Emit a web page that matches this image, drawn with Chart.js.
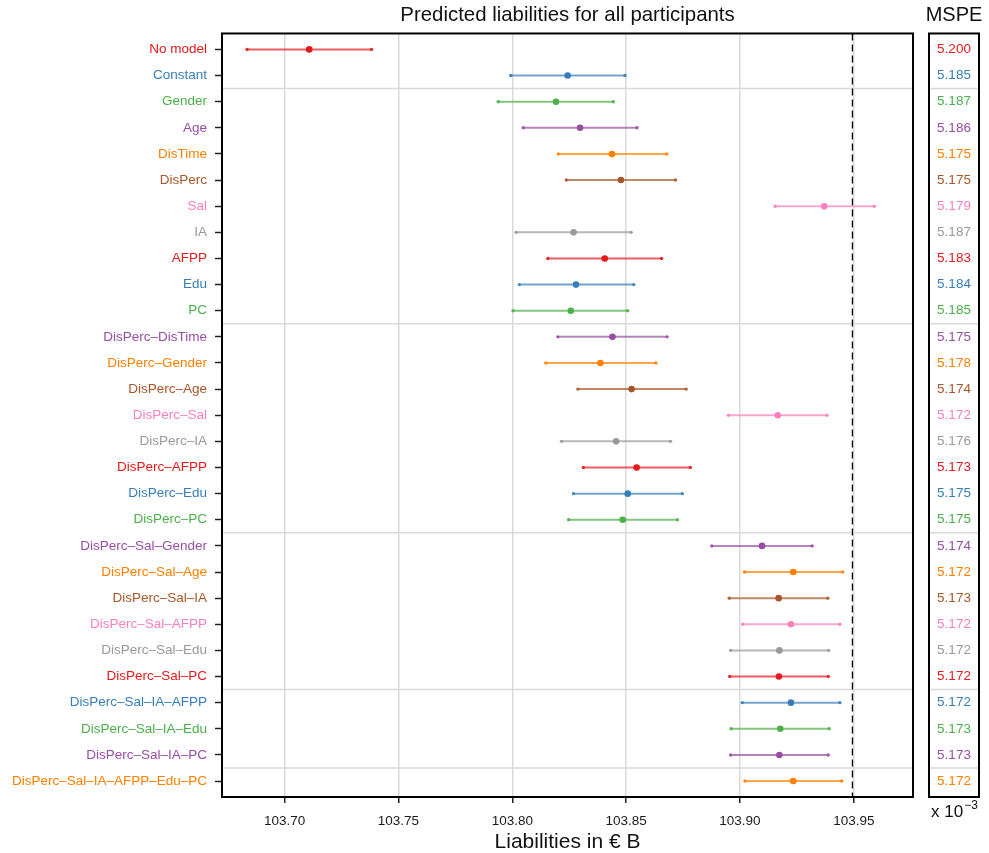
<!DOCTYPE html>
<html lang="en">
<head>
<meta charset="UTF-8">
<title>Predicted liabilities for all participants</title>
<script src="https://cdn.jsdelivr.net/npm/chart.js"></script>
<style>
    body { margin: 0; background: #fff; }
    #wrap { width: 989px; height: 853px; }
</style>
</head>
<body>
<div id="wrap"><canvas id="liabChart" width="989" height="853"></canvas></div>
<script>
    const rowLabels = [
        'No model', 'Constant', 'Gender', 'Age', 'DisTime', 'DisPerc', 'Sal', 'IA', 'AFPP', 'Edu', 'PC',
        'DisPerc–DisTime', 'DisPerc–Gender', 'DisPerc–Age', 'DisPerc–Sal', 'DisPerc–IA', 'DisPerc–AFPP', 'DisPerc–Edu', 'DisPerc–PC',
        'DisPerc–Sal–Gender', 'DisPerc–Sal–Age', 'DisPerc–Sal–IA', 'DisPerc–Sal–AFPP', 'DisPerc–Sal–Edu', 'DisPerc–Sal–PC',
        'DisPerc–Sal–IA–AFPP', 'DisPerc–Sal–IA–Edu', 'DisPerc–Sal–IA–PC',
        'DisPerc–Sal–IA–AFPP–Edu–PC'
    ];
    const lowerValues = [
        103.6835, 103.7993, 103.7938, 103.8048, 103.8202, 103.8237, 103.9154, 103.8017, 103.8156, 103.8031, 103.8003,
        103.8200, 103.8147, 103.8288, 103.8949, 103.8216, 103.8312, 103.8269, 103.8247,
        103.8876, 103.9020, 103.8953, 103.9012, 103.8959, 103.8955,
        103.9010, 103.8961, 103.8959,
        103.9022
    ];
    const pointValues = [
        103.7108, 103.8243, 103.8192, 103.8298, 103.8438, 103.8477, 103.9370, 103.8269, 103.8406, 103.8280, 103.8257,
        103.8440, 103.8387, 103.8524, 103.9166, 103.8456, 103.8546, 103.8507, 103.8485,
        103.9097, 103.9234, 103.9170, 103.9224, 103.9173, 103.9171,
        103.9224, 103.9177, 103.9173,
        103.9234
    ];
    const upperValues = [
        103.7382, 103.8495, 103.8444, 103.8548, 103.8678, 103.8717, 103.9590, 103.8522, 103.8656, 103.8534, 103.8507,
        103.8680, 103.8631, 103.8764, 103.9382, 103.8695, 103.8782, 103.8747, 103.8725,
        103.9317, 103.9451, 103.9386, 103.9439, 103.9390, 103.9388,
        103.9439, 103.9392, 103.9388,
        103.9447
    ];
    const mspeValues = [
        5.200, 5.185, 5.187, 5.186, 5.175, 5.175, 5.179, 5.187, 5.183, 5.184, 5.185,
        5.175, 5.178, 5.174, 5.172, 5.176, 5.173, 5.175, 5.175,
        5.174, 5.172, 5.173, 5.172, 5.172, 5.172,
        5.172, 5.173, 5.173,
        5.172
    ];
    const groupBreaks = [2.5, 11.5, 19.5, 25.5, 28.5];
    const xTicks = [103.70, 103.75, 103.80, 103.85, 103.90, 103.95];
    const referenceValue = 103.9494;

    const palette = ['#E41A1C', '#377EB8', '#4DAF4A', '#984EA3', '#FF7F00', '#A65628', '#F781BF', '#999999'];
    const X_MIN = 103.6725, X_MAX = 103.9760;
    const Y_MIN = 0.39, Y_MAX = 29.61;
    const FONT = "'Liberation Sans', Arial, Helvetica, sans-serif";

    function withAlpha(hex, a) {
        const n = parseInt(hex.slice(1), 16);
        return `rgba(${n >> 16}, ${(n >> 8) & 255}, ${n & 255}, ${a})`;
    }
    const rowColor = i => palette[i % palette.length];

    Chart.defaults.font.family = FONT;
    Chart.defaults.color = '#111';

    const datasets = [];

    // horizontal group separators
    groupBreaks.forEach(b => {
        datasets.push({
            data: [{ x: X_MIN, y: b }, { x: X_MAX, y: b }],
            showLine: true,
            borderColor: '#d9d9d9',
            borderWidth: 1.5,
            pointRadius: 0,
            order: 5
        });
    });

    // dashed reference line
    datasets.push({
        data: [{ x: referenceValue, y: Y_MIN }, { x: referenceValue, y: Y_MAX }],
        showLine: true,
        borderColor: '#000',
        borderWidth: 1.3,
        borderDash: [7, 4],
        pointRadius: 0,
        order: 4
    });

    // interval lines, one per model
    rowLabels.forEach((name, i) => {
        datasets.push({
            label: name,
            data: [{ x: lowerValues[i], y: i + 1 }, { x: upperValues[i], y: i + 1 }],
            showLine: true,
            borderColor: withAlpha(rowColor(i), 0.7),
            borderWidth: 2,
            pointRadius: 1.7,
            pointBackgroundColor: withAlpha(rowColor(i), 0.9),
            pointBorderWidth: 0,
            order: 2
        });
    });

    // point estimates
    datasets.push({
        data: pointValues.map((v, i) => ({ x: v, y: i + 1 })),
        pointRadius: 3.3,
        pointBackgroundColor: pointValues.map((v, i) => rowColor(i)),
        pointBorderWidth: 0,
        order: 1
    });

    // frame + MSPE side panel
    const mspePanel = {
        id: 'mspePanel',
        afterDraw(chart) {
            const { ctx, chartArea: a, scales: { y } } = chart;
            ctx.save();
            ctx.strokeStyle = '#000';
            ctx.lineWidth = 2;
            ctx.strokeRect(a.left, a.top, a.right - a.left, a.bottom - a.top);

            const pl = a.right + 16, pr = a.right + 66, cx = (pl + pr) / 2;
            ctx.strokeStyle = '#d9d9d9';
            ctx.lineWidth = 1.5;
            groupBreaks.forEach(b => {
                const py = y.getPixelForValue(b);
                ctx.beginPath();
                ctx.moveTo(pl, py);
                ctx.lineTo(pr, py);
                ctx.stroke();
            });
            ctx.strokeStyle = '#000';
            ctx.lineWidth = 2;
            ctx.strokeRect(pl, a.top, pr - pl, a.bottom - a.top);

            ctx.textAlign = 'center';
            ctx.textBaseline = 'middle';
            ctx.font = '13.5px ' + FONT;
            mspeValues.forEach((v, i) => {
                ctx.fillStyle = rowColor(i);
                ctx.fillText(v.toFixed(3), cx, y.getPixelForValue(i + 1));
            });

            ctx.fillStyle = '#111';
            ctx.font = '20px ' + FONT;
            ctx.fillText('MSPE', cx, 15);

            // "x 10^-3" scale note
            ctx.textAlign = 'left';
            ctx.textBaseline = 'alphabetic';
            ctx.font = '17px ' + FONT;
            const base = 'x 10';
            ctx.fillText(base, pl + 2, a.bottom + 20);
            const w = ctx.measureText(base).width;
            ctx.font = '12px ' + FONT;
            ctx.fillText('−3', pl + 2 + w + 1, a.bottom + 12);
            ctx.restore();
        }
    };

    new Chart(document.getElementById('liabChart'), {
        type: 'scatter',
        data: { datasets: datasets },
        plugins: [mspePanel],
        options: {
            responsive: false,
            animation: false,
            layout: { padding: { left: 0, right: 76, top: 0, bottom: 0 } },
            plugins: {
                legend: { display: false },
                tooltip: { enabled: false },
                title: {
                    display: true,
                    text: 'Predicted liabilities for all participants',
                    fullSize: false,
                    color: '#111',
                    font: { size: 20.4, weight: 'normal' },
                    padding: { top: 3, bottom: 6 }
                }
            },
            scales: {
                x: {
                    type: 'linear',
                    min: X_MIN,
                    max: X_MAX,
                    afterBuildTicks: s => { s.ticks = xTicks.map(v => ({ value: v })); },
                    afterFit: s => { s.height = 56; },
                    ticks: {
                        callback: v => v.toFixed(2),
                        font: { size: 13.5 },
                        color: '#1a1a1a',
                        padding: 10,
                        autoSkip: false,
                        maxRotation: 0
                    },
                    grid: { color: '#d9d9d9', lineWidth: 1.5, tickLength: 6, tickColor: '#222', tickWidth: 1.5 },
                    border: { display: false },
                    title: {
                        display: true,
                        text: 'Liabilities in € B',
                        color: '#111',
                        font: { size: 21, lineHeight: 1 },
                        padding: 0
                    }
                },
                y: {
                    type: 'linear',
                    reverse: true,
                    min: Y_MIN,
                    max: Y_MAX,
                    afterBuildTicks: s => { s.ticks = rowLabels.map((_, i) => ({ value: i + 1 })); },
                    afterFit: s => { s.width = 222; },
                    ticks: {
                        callback: (v, i) => rowLabels[i],
                        color: c => rowColor(c.index),
                        font: { size: 13.5 },
                        padding: 8,
                        autoSkip: false
                    },
                    grid: { drawOnChartArea: false, tickLength: 7, tickColor: '#222', tickWidth: 1.5 },
                    border: { display: false }
                }
            }
        }
    });
</script>
</body>
</html>
